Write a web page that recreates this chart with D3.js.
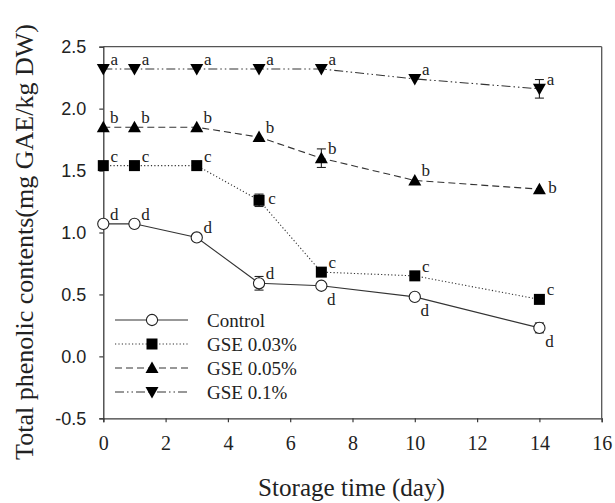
<!DOCTYPE html>
<html>
<head>
<meta charset="utf-8">
<script src="https://cdn.jsdelivr.net/npm/d3@7"></script>
<style>
  html, body { margin: 0; padding: 0; background: #fff; }
  svg { display: block; }
</style>
</head>
<body>
<svg id="chart" width="615" height="503"></svg>
<script>
// ---- Data ----
const days = [0, 1, 3, 5, 7, 10, 14];
const seriesNames = ["Control", "GSE 0.03%", "GSE 0.05%", "GSE 0.1%"];
const controlValues = [1.07, 1.07, 0.96, 0.59, 0.57, 0.48, 0.23];
const gse003Values  = [1.54, 1.54, 1.54, 1.26, 0.68, 0.65, 0.46];
const gse005Values  = [1.85, 1.85, 1.85, 1.77, 1.60, 1.42, 1.35];
const gse01Values   = [2.32, 2.32, 2.32, 2.32, 2.32, 2.24, 2.16];
const controlErrors = [0, 0, 0, 0.055, 0, 0, 0.04];
const gse003Errors  = [0, 0, 0, 0.05, 0, 0, 0];
const gse005Errors  = [0, 0, 0, 0, 0.075, 0, 0];
const gse01Errors   = [0, 0, 0, 0, 0, 0, 0.075];
const controlLetters = ["d", "d", "d", "d", "d", "d", "d"];
const gse003Letters  = ["c", "c", "c", "c", "c", "c", "c"];
const gse005Letters  = ["b", "b", "b", "b", "b", "b", "b"];
const gse01Letters   = ["a", "a", "a", "a", "a", "a", "a"];
// letter placement relative to marker: ne = upper right, se = lower right, e = right
const controlPlace = ["ne", "ne", "ne", "ne", "se", "se", "se"];
const gse003Place  = ["ne", "ne", "ne", "e", "ne", "ne", "ne"];
const gse005Place  = ["ne", "ne", "ne", "ne", "ne", "ne", "e"];
const gse01Place   = ["ne", "ne", "ne", "ne", "ne", "ne", "ne"];
const xTicks = [0, 2, 4, 6, 8, 10, 12, 14, 16];
const yTicks = [-0.5, 0.0, 0.5, 1.0, 1.5, 2.0, 2.5];
const yTickLabels = ["-0.5", "0.0", "0.5", "1.0", "1.5", "2.0", "2.5"];
const xTitle = "Storage time (day)";
const yTitle = "Total phenolic contents(mg GAE/kg DW)";

// ---- Layout ----
const W = 615, H = 503;
const margin = { left: 103.3, right: 13.3, top: 46.7, bottom: 84.7 };
const x = d3.scaleLinear().domain([0, 16]).range([margin.left, W - margin.right]);
const y = d3.scaleLinear().domain([-0.5, 2.5]).range([H - margin.bottom, margin.top]);

const svg = d3.select("#chart");
const serif = "'Liberation Serif', 'Times New Roman', serif";
const sans = "'Liberation Sans', Arial, sans-serif";
const axisColor = "#3a3a3a";

const styles = [
  { dash: null,            marker: "circle",  fill: "#fff" },
  { dash: "1.2,2.2",       marker: "square",  fill: "#000" },
  { dash: "7,4",           marker: "triUp",   fill: "#000" },
  { dash: "9,3,1.5,3,1.5,3", marker: "triDown", fill: "#000" }
];

const series = [
  { name: seriesNames[0], values: controlValues, errors: controlErrors, letters: controlLetters, place: controlPlace },
  { name: seriesNames[1], values: gse003Values,  errors: gse003Errors,  letters: gse003Letters,  place: gse003Place },
  { name: seriesNames[2], values: gse005Values,  errors: gse005Errors,  letters: gse005Letters,  place: gse005Place },
  { name: seriesNames[3], values: gse01Values,   errors: gse01Errors,   letters: gse01Letters,   place: gse01Place }
];

// ---- Frame (top & right) ----
svg.append("line").attr("x1", x(0)).attr("x2", x(16)).attr("y1", y(2.5)).attr("y2", y(2.5))
  .attr("stroke", "#555").attr("stroke-width", 1.3);
svg.append("line").attr("x1", x(16)).attr("x2", x(16)).attr("y1", y(2.5)).attr("y2", y(-0.5))
  .attr("stroke", "#555").attr("stroke-width", 1.3);

// ---- Axes ----
const xAxis = d3.axisBottom(x).tickValues(xTicks).tickSize(4).tickPadding(14).tickFormat(d3.format("d"));
const gx = svg.append("g").attr("transform", `translate(0,${y(-0.5)})`).call(xAxis);
gx.select(".domain").attr("stroke", axisColor).attr("stroke-width", 1.3);
gx.selectAll(".tick line").attr("stroke", axisColor).attr("stroke-width", 1.2);
gx.selectAll(".tick text").attr("font-family", serif).attr("font-size", 20).attr("fill", "#222");

const yAxis = d3.axisLeft(y).tickValues(yTicks).tickSize(4).tickPadding(13)
  .tickFormat((d, i) => yTickLabels[i]);
const gy = svg.append("g").attr("transform", `translate(${x(0)},0)`).call(yAxis);
gy.select(".domain").attr("stroke", axisColor).attr("stroke-width", 1.3);
gy.selectAll(".tick line").attr("stroke", axisColor).attr("stroke-width", 1.2);
gy.selectAll(".tick text").attr("font-family", sans).attr("font-size", 18).attr("fill", "#222");

// ---- Axis titles ----
const xt = svg.append("text").attr("x", 351.5).attr("y", 496).attr("text-anchor", "middle")
  .attr("font-family", serif).attr("font-size", 23).attr("fill", "#222").text(xTitle);
const xtl = xt.node().getComputedTextLength();
xt.attr("font-size", 23 * 187 / xtl);

const yt = svg.append("text").attr("text-anchor", "middle")
  .attr("transform", "translate(33,242) rotate(-90)")
  .attr("font-family", serif).attr("font-size", 24).attr("fill", "#222").text(yTitle);
const ytl = yt.node().getComputedTextLength();
yt.attr("font-size", Math.min(26, 24 * 447 / ytl));

// ---- Marker drawing ----
function drawMarker(g, type, cx, cy, fill) {
  if (type === "circle") {
    g.append("circle").attr("cx", cx).attr("cy", cy).attr("r", 5.6)
      .attr("fill", fill).attr("stroke", "#222").attr("stroke-width", 1.1);
  } else if (type === "square") {
    g.append("rect").attr("x", cx - 5.5).attr("y", cy - 5.5).attr("width", 11).attr("height", 11)
      .attr("fill", fill);
  } else if (type === "triUp") {
    g.append("path").attr("d", `M${cx},${cy - 6.5}L${cx + 6.5},${cy + 5}L${cx - 6.5},${cy + 5}Z`).attr("fill", fill);
  } else {
    g.append("path").attr("d", `M${cx},${cy + 6.5}L${cx + 6.5},${cy - 5}L${cx - 6.5},${cy - 5}Z`).attr("fill", fill);
  }
}

const line = d3.line().x(d => x(d[0])).y(d => y(d[1]));

// lines first
series.forEach((s, i) => {
  const pts = days.map((d, j) => [d, s.values[j]]);
  svg.append("path").datum(pts).attr("d", line).attr("fill", "none")
    .attr("stroke", "#333").attr("stroke-width", 1.1)
    .attr("stroke-dasharray", styles[i].dash);
});

// error bars, markers, letters
const placeOff = { ne: [11, -10], se: [10, 13], e: [13, -2] };
series.forEach((s, i) => {
  const g = svg.append("g");
  days.forEach((d, j) => {
    const cx = x(d), cy = y(s.values[j]);
    const e = s.errors[j];
    if (e > 0) {
      const y1 = y(s.values[j] + e), y2 = y(s.values[j] - e);
      g.append("line").attr("x1", cx).attr("x2", cx).attr("y1", y1).attr("y2", y2).attr("stroke", "#222").attr("stroke-width", 1.1);
      g.append("line").attr("x1", cx - 4.5).attr("x2", cx + 4.5).attr("y1", y1).attr("y2", y1).attr("stroke", "#222").attr("stroke-width", 1.1);
      g.append("line").attr("x1", cx - 4.5).attr("x2", cx + 4.5).attr("y1", y2).attr("y2", y2).attr("stroke", "#222").attr("stroke-width", 1.1);
    }
    drawMarker(g, styles[i].marker, cx, cy, styles[i].fill);
    const off = placeOff[s.place[j]];
    g.append("text").attr("x", cx + off[0]).attr("y", cy + off[1]).attr("dy", "0.35em")
      .attr("text-anchor", "middle").attr("font-family", serif).attr("font-size", 17)
      .attr("fill", "#222").text(s.letters[j]);
  });
});

// ---- Legend ----
const legRows = [320, 344, 368, 392];
series.forEach((s, i) => {
  const g = svg.append("g");
  const ly = legRows[i];
  g.append("line").attr("x1", 115).attr("x2", 188).attr("y1", ly).attr("y2", ly)
    .attr("stroke", "#333").attr("stroke-width", 1.1).attr("stroke-dasharray", styles[i].dash);
  drawMarker(g, styles[i].marker, 152, ly, styles[i].fill);
  g.append("text").attr("x", 207).attr("y", ly).attr("dy", "0.35em")
    .attr("font-family", serif).attr("font-size", 19).attr("fill", "#222").text(s.name);
});
</script>
</body>
</html>
